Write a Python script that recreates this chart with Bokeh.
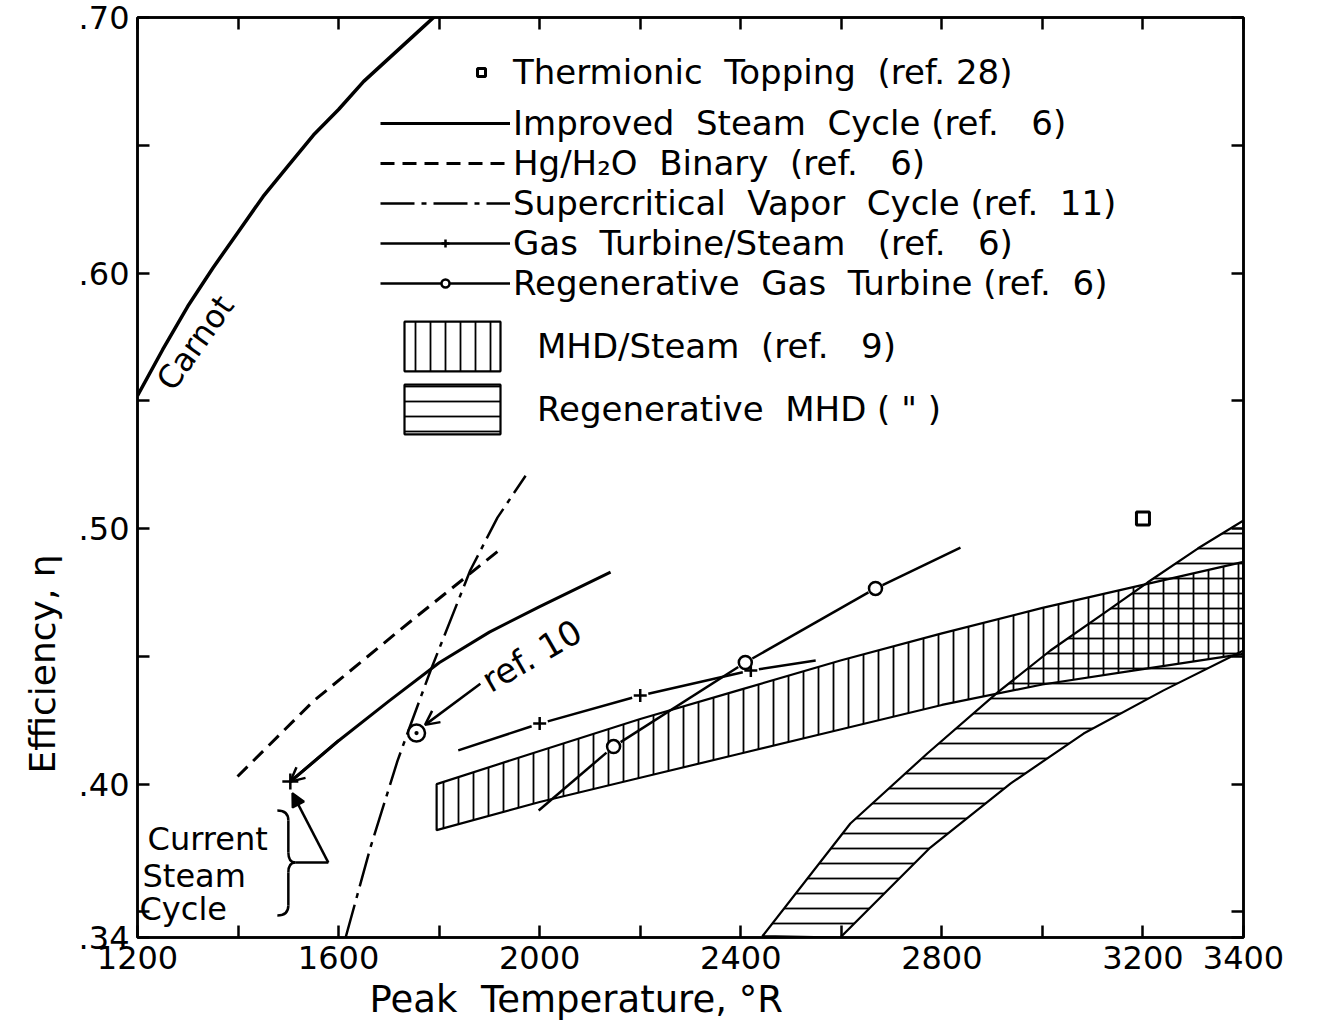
import numpy as np
from bokeh.plotting import figure
from bokeh.models import (Range1d, FixedTicker, CustomJSTickFormatter, LinearAxis, Title,
                          Legend, LegendItem, Label, Arrow, OpenHead, NormalHead)
from bokeh.embed import file_html
from bokeh.resources import INLINE

# ---------------- data ----------------
carnot_T = [1200, 1250, 1300, 1350, 1400, 1450, 1500, 1550, 1600, 1650, 1700, 1750, 1800]
carnot_eta = [0.552, 0.570, 0.587, 0.602, 0.616, 0.630, 0.642, 0.654, 0.664, 0.675, 0.684, 0.693, 0.702]

steam_T = [1504, 1600, 1700, 1800, 1900, 2000, 2141]
steam_eta = [0.401, 0.417, 0.4325, 0.4475, 0.4595, 0.4695, 0.483]

binary_T = [1399, 1550, 1723, 1916]
binary_eta = [0.403, 0.4325, 0.4605, 0.491]

supercrit_T = [1614, 1663, 1717, 1739, 1783, 1862, 1916, 1972]
supercrit_eta = [0.340, 0.375, 0.409, 0.421, 0.4445, 0.4837, 0.5043, 0.5207]

gts_T = [1838, 2000, 2200, 2420, 2549]
gts_eta = [0.4132, 0.4237, 0.4347, 0.4445, 0.4484]
gts_mark_T = [2000, 2200, 2420]

regen_gt_T = [1998, 2147, 2409, 2668, 2837]
regen_gt_eta = [0.3897, 0.4147, 0.4476, 0.4766, 0.4926]
regen_gt_mark_T = [2147, 2409, 2668]

mhd_T = [1795, 2000, 2200, 2400, 2600, 2800, 3000, 3200, 3400]
mhd_upper = [0.400, 0.413, 0.4255, 0.437, 0.4485, 0.459, 0.469, 0.478, 0.487]
mhd_lower = [0.382, 0.393, 0.4025, 0.412, 0.4215, 0.431, 0.439, 0.445, 0.451]

regen_mhd_upper_T = [2443, 2618, 2771, 2911, 3016, 3122, 3209, 3309, 3400]
regen_mhd_upper = [0.3405, 0.3846, 0.412, 0.4359, 0.4523, 0.4668, 0.4789, 0.4922, 0.5032]
regen_mhd_lower_T = [2598, 2777, 2937, 3082, 3241, 3400]
regen_mhd_lower = [0.3400, 0.3752, 0.4003, 0.4198, 0.4367, 0.4523]

thermionic_T = [3200]
thermionic_eta = [0.504]

current_T = [1504]
current_eta = [0.401]

ref10_T = [1755]
ref10_eta = [0.420]

x_major = [1200, 1600, 2000, 2400, 2800, 3200, 3400]
x_minor = [1400, 1800, 2200, 2600, 3000]
y_major = [0.34, 0.40, 0.50, 0.60, 0.70]
y_minor = [0.35, 0.45, 0.55, 0.65]

FONT = "DejaVu Sans"
INK = "black"


def broken(xs, ys, marks, gap):
    xs = np.asarray(xs, float)
    ys = np.asarray(ys, float)
    bounds = []
    start = xs[0]
    for m in sorted(marks):
        bounds.append((start, m - gap))
        start = m + gap
    bounds.append((start, xs[-1]))
    sx_all, sy_all = [], []
    for a, b in bounds:
        inner = xs[(xs > a) & (xs < b)]
        sx = np.concatenate([[a], inner, [b]])
        sy = np.interp(sx, xs, ys)
        sx_all.append(list(sx))
        sy_all.append(list(sy))
    return sx_all, sy_all


p = figure(width=1318, height=1025, x_range=Range1d(1200, 3400), y_range=Range1d(0.34, 0.70),
           output_backend="svg", toolbar_location=None,
           min_border_left=137, min_border_right=75, min_border_top=17, min_border_bottom=88,
           background_fill_color="white", border_fill_color="white")
p.grid.visible = False
p.outline_line_color = INK
p.outline_line_width = 2.5

xt = FixedTicker(ticks=x_major, minor_ticks=x_minor)
yt = FixedTicker(ticks=y_major, minor_ticks=y_minor)
xfmt = CustomJSTickFormatter(code="return tick.toFixed(0);")
yfmt = CustomJSTickFormatter(code="return tick.toFixed(2).replace(/^0/, '');")


def style_axis(ax, show_labels=True):
    ax.axis_line_width = 2.5
    ax.axis_line_color = INK
    ax.major_tick_in = 12
    ax.major_tick_out = 0
    ax.minor_tick_in = 12
    ax.minor_tick_out = 0
    ax.major_tick_line_width = 2.5
    ax.minor_tick_line_width = 2.5
    ax.major_tick_line_color = INK
    ax.minor_tick_line_color = INK
    ax.major_label_text_font = FONT
    ax.major_label_text_color = INK
    if show_labels:
        ax.major_label_text_font_size = "32px"
    else:
        ax.major_label_text_font_size = "0px"
        ax.major_label_standoff = 0


p.xaxis.ticker = xt
p.xaxis.formatter = xfmt
p.yaxis.ticker = yt
p.yaxis.formatter = yfmt
style_axis(p.xaxis[0])
style_axis(p.yaxis[0])
p.xaxis.major_label_standoff = 8
p.yaxis.major_label_standoff = 8

top_ax = LinearAxis(ticker=FixedTicker(ticks=x_major, minor_ticks=x_minor),
                    formatter=CustomJSTickFormatter(code="return '';"))
right_ax = LinearAxis(ticker=FixedTicker(ticks=y_major, minor_ticks=y_minor),
                      formatter=CustomJSTickFormatter(code="return '';"))
style_axis(top_ax, False)
style_axis(right_ax, False)
p.add_layout(top_ax, "above")
p.add_layout(right_ax, "right")

# axis titles (placed off-centre like the original)
p.add_layout(Title(text="Peak\u00a0 Temperature, °R", align="left", offset=232, standoff=8,
                   text_font=FONT, text_font_size="37px", text_font_style="normal",
                   text_color=INK), "below")
p.add_layout(Title(text="Efficiency, η", align="left", offset=164, standoff=25,
                   text_font=FONT, text_font_size="36px", text_font_style="normal",
                   text_color=INK), "left")

# ---------------- bands ----------------
r_mhd = p.patch(mhd_T + mhd_T[::-1], mhd_upper + mhd_lower[::-1],
                fill_color=None, hatch_pattern="|", hatch_scale=15, hatch_weight=1.8,
                hatch_color=INK, line_color=INK, line_width=2.2)
r_rmhd = p.patch(regen_mhd_upper_T + regen_mhd_lower_T[::-1],
                 regen_mhd_upper + regen_mhd_lower[::-1],
                 fill_color=None, hatch_pattern="-", hatch_scale=15, hatch_weight=1.8,
                 hatch_color=INK, line_color=INK, line_width=2.2)

# ---------------- curves ----------------
p.line(carnot_T, carnot_eta, line_color=INK, line_width=3.5)
r_steam = p.line(steam_T, steam_eta, line_color=INK, line_width=3)
r_bin = p.line(binary_T, binary_eta, line_color=INK, line_width=3, line_dash="14 8")
r_sc = p.line(supercrit_T, supercrit_eta, line_color=INK, line_width=2.5, line_dash="34 7 5 7")

gx, gy = broken(gts_T, gts_eta, gts_mark_T, 16)
r_gts = p.multi_line(gx, gy, line_color=INK, line_width=2.5)
r_gts_m = p.scatter(gts_mark_T, list(np.interp(gts_mark_T, gts_T, gts_eta)),
                    marker="cross", size=13, line_width=2.5, line_color=INK)

rx, ry = broken(regen_gt_T, regen_gt_eta, regen_gt_mark_T, 14)
r_rgt = p.multi_line(rx, ry, line_color=INK, line_width=2.5)
r_rgt_m = p.scatter(regen_gt_mark_T, list(np.interp(regen_gt_mark_T, regen_gt_T, regen_gt_eta)),
                    marker="circle", size=13, line_width=2.5, line_color=INK, fill_color="white")

r_therm = p.scatter(thermionic_T, thermionic_eta, marker="square", size=13, line_width=3,
                    line_color=INK, fill_color="white")

p.scatter(current_T, current_eta, marker="cross", size=16, line_width=2.5, line_color=INK)
p.scatter(ref10_T, ref10_eta, marker="circle_dot", size=17, line_width=2.5,
          line_color=INK, fill_color="white")

# arrowhead at current steam cycle point
p.add_layout(Arrow(x_start=steam_T[1], y_start=steam_eta[1], x_end=steam_T[0], y_end=steam_eta[0],
                   line_width=3, line_color=INK,
                   end=OpenHead(size=14, line_width=2.5, line_color=INK)))

# ref. 10 arrow
p.add_layout(Arrow(x_start=1882, y_start=0.4393, x_end=1772, y_end=0.4232,
                   line_width=2.5, line_color=INK,
                   end=OpenHead(size=14, line_width=2.5, line_color=INK)))

# brace for "Current Steam Cycle"
kx = 2200 / 1106.0
ky = 0.36 / 920.0
tipT, tipE = 1512, 0.3693


def bp(dx, dy):
    return tipT + dx * kx, tipE - dy * ky


curves = [  # (start, end, control) in px offsets from brace tip
    ((-17, -52), (-6, -42), (-6, -52)),
    ((-6, -10), (1, 0), (-6, 0)),
    ((1, 0), (-6, 10), (-6, 0)),
    ((-6, 43), (-17, 53), (-6, 53)),
]
qx0, qy0, qx1, qy1, qcx, qcy = [], [], [], [], [], []
for s, e, c in curves:
    a, b, cc = bp(*s), bp(*e), bp(*c)
    qx0.append(a[0]); qy0.append(a[1]); qx1.append(b[0]); qy1.append(b[1])
    qcx.append(cc[0]); qcy.append(cc[1])
p.quadratic(x0=qx0, y0=qy0, x1=qx1, y1=qy1, cx=qcx, cy=qcy, line_color=INK, line_width=2.5)
bx = [[bp(-6, -42)[0], bp(-6, -10)[0]], [bp(-6, 10)[0], bp(-6, 43)[0]]]
by = [[bp(-6, -42)[1], bp(-6, -10)[1]], [bp(-6, 10)[1], bp(-6, 43)[1]]]
p.multi_line(bx, by, line_color=INK, line_width=2.5)
p.line([bp(1, 0)[0], bp(34, 0)[0]], [tipE, tipE], line_color=INK, line_width=2.5)
p.add_layout(Arrow(x_start=bp(34, 0)[0], y_start=tipE, x_end=1508, y_end=0.3965,
                   line_width=2.5, line_color=INK,
                   end=NormalHead(size=13, line_width=2, line_color=INK, fill_color=INK)))


# ---------------- text annotations ----------------
def lab(x, y, text, size="32px", angle=0, align="left", baseline="alphabetic"):
    p.add_layout(Label(x=x, y=y, text=text, text_font=FONT, text_font_size=size,
                       text_color=INK, angle=angle, angle_units="deg",
                       text_align=align, text_baseline=baseline))


lab(1315, 0.5727, "Carnot", angle=54.6, align="center", baseline="middle")
lab(1984, 0.4503, "ref. 10", size="34px", angle=30, align="center", baseline="middle")
lab(1220, 0.3787, "Current")
lab(1210, 0.3642, "Steam")
lab(1204, 0.3513, "Cycle")


# ---------------- legends ----------------
def mk_legend(items, loc, gw, gh, standoff, spacing):
    lg = Legend(items=items, location=loc, glyph_width=gw, glyph_height=gh,
                label_standoff=standoff, spacing=spacing, padding=0, margin=0,
                border_line_alpha=0, background_fill_alpha=0,
                label_text_font=FONT, label_text_font_size="34px", label_text_color=INK)
    p.add_layout(lg)
    return lg


NB = "\u00a0"
mk_legend([LegendItem(label=f"Thermionic{NB} Topping{NB} (ref. 28)", renderers=[r_therm])],
          (334, 845), 20, 20, 22, 0)
mk_legend([
    LegendItem(label=f"Improved{NB} Steam{NB} Cycle (ref.{NB}{NB}{NB}6)", renderers=[r_steam]),
    LegendItem(label=f"Hg/H₂O{NB} Binary{NB} (ref.{NB}{NB}{NB}6)", renderers=[r_bin]),
    LegendItem(label=f"Supercritical{NB} Vapor{NB} Cycle (ref.{NB} 11)", renderers=[r_sc]),
    LegendItem(label=f"Gas{NB} Turbine/Steam{NB}{NB} (ref.{NB}{NB}{NB}6)", renderers=[r_gts, r_gts_m]),
    LegendItem(label=f"Regenerative{NB} Gas{NB} Turbine (ref.{NB} 6)", renderers=[r_rgt, r_rgt_m]),
], (243, 634), 130, 20, 3, 0)
mk_legend([
    LegendItem(label=f"MHD/Steam{NB} (ref.{NB}{NB} 9)", renderers=[r_mhd]),
    LegendItem(label=f"Regenerative{NB} MHD ( \" )", renderers=[r_rmhd]),
], (255, 497), 120, 62, 25, 1)

open("out.html", "w").write(file_html(p, INLINE))
